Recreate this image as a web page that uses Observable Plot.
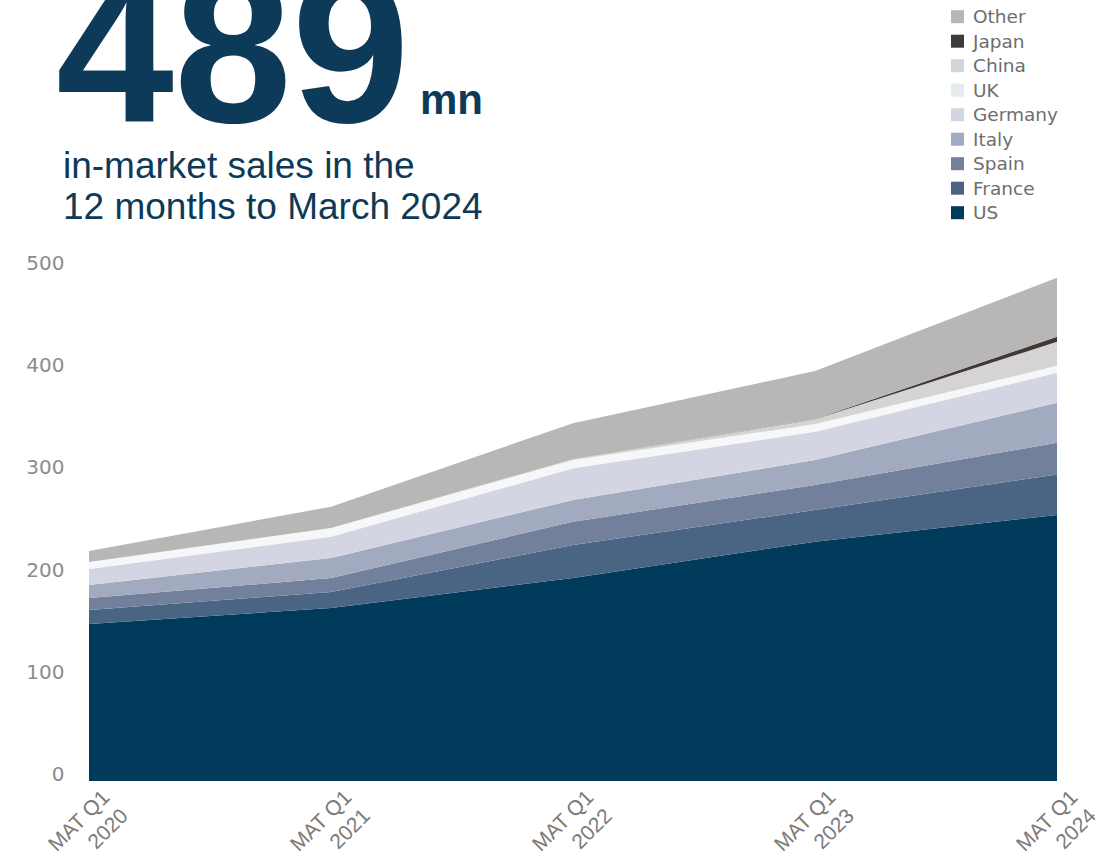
<!DOCTYPE html>
<html>
<head>
<meta charset="utf-8">
<script src="https://cdn.jsdelivr.net/npm/d3@7"></script>
<script src="https://cdn.jsdelivr.net/npm/@observablehq/plot@0.6"></script>
<style>
  html, body { margin: 0; padding: 0; background: #ffffff; }
  #wrap { position: relative; width: 1099px; height: 862px; overflow: hidden; }
  #wrap svg { position: absolute; left: 0; top: 0; }
</style>
</head>
<body>
<div id="wrap"></div>
<script>
// ---- data (USD mn, in-market sales, stacked) ----
const periods = ["MAT Q1 2020", "MAT Q1 2021", "MAT Q1 2022", "MAT Q1 2023", "MAT Q1 2024"];
const countries = ["US", "France", "Spain", "Italy", "Germany", "UK", "China", "Japan", "Other"];
const colors = ["#003b5c", "#4a6484", "#72809b", "#a1aabe", "#d3d6e2", "#f5f7f9", "#d5d3d3", "#3e3a37", "#b8b7b6"];
const us      = [153.6, 169.3, 198.6, 234.2, 260.3];
const france  = [13.7, 15.6, 32.3, 31.0, 39.6];
const spain   = [11.7, 13.7, 22.8, 24.4, 31.0];
const italy   = [12.8, 19.6, 21.3, 24.5, 39.2];
const germany = [15.6, 20.8, 31.0, 27.7, 29.3];
const uk      = [6.9, 8.6, 8.1, 7.5, 6.8];
const china   = [0.0, 0.0, 0.8, 4.6, 23.5];
const japan   = [0.0, 0.0, 0.0, 0.3, 4.9];
const other   = [10.8, 20.8, 35.2, 47.0, 57.8];
const yTicks  = [0, 100, 200, 300, 400, 500];
const legendOrder = ["Other", "Japan", "China", "UK", "Germany", "Italy", "Spain", "France", "US"];

const valuesBy = {US: us, France: france, Spain: spain, Italy: italy, Germany: germany, UK: uk, China: china, Japan: japan, Other: other};
const rows = countries.flatMap(c => periods.map((p, i) => ({period: p, country: c, value: valuesBy[c][i]})));

const wrap = document.getElementById("wrap");

const chart = Plot.plot({
  width: 1099,
  height: 862,
  marginTop: 270,
  marginBottom: 81,
  marginLeft: 89,
  marginRight: 42,
  style: {background: "transparent", overflow: "visible"},
  x: {type: "point", domain: periods, padding: 0, axis: null},
  y: {domain: [0, 500], axis: null},
  color: {domain: countries, range: colors},
  marks: [
    Plot.areaY(rows, {x: "period", y: "value", fill: "country", z: "country"}),
    Plot.axisY({ticks: yTicks, tickSize: 0, tickPadding: 25, dy: -7, fontSize: 20, label: null,
                fill: "#8c8c8c", fontFamily: "DejaVu Sans", textAnchor: "end"}),
    Plot.text(periods, {
      x: d => d,
      frameAnchor: "bottom",
      text: d => d.replace(/ (\d{4})$/, "\n$1"),
      rotate: -45,
      textAnchor: "end",
      lineAnchor: "top",
      dx: 8,
      dy: 4,
      fontSize: 21,
      lineHeight: 1.25,
      fill: "#7a7a7a",
      fontFamily: "Liberation Sans, Arial, sans-serif"
    })
  ]
});
wrap.appendChild(chart);

// ---- header: big number, subtitle and legend ----
const head = d3.select(wrap).append("svg")
  .attr("width", 1099).attr("height", 250)
  .style("overflow", "visible");

head.append("text").attr("x", 56).attr("y", 122)
  .attr("font-family", "Liberation Sans, Arial, sans-serif")
  .attr("font-weight", "bold").attr("font-size", 212).attr("fill", "#0d3a58")
  .text("489");
head.append("text").attr("x", 420).attr("y", 114)
  .attr("font-family", "Liberation Sans, Arial, sans-serif")
  .attr("font-weight", "bold").attr("font-size", 42).attr("fill", "#0d3a58")
  .text("mn");
head.append("text").attr("x", 63).attr("y", 178)
  .attr("font-family", "Liberation Sans, Arial, sans-serif")
  .attr("font-size", 37).attr("fill", "#0d3a58")
  .text("in-market sales in the");
head.append("text").attr("x", 63).attr("y", 219)
  .attr("font-family", "Liberation Sans, Arial, sans-serif")
  .attr("font-size", 37).attr("fill", "#0d3a58")
  .text("12 months to March 2024");

const legendColor = {};
countries.forEach((c, i) => legendColor[c] = colors[i]);
legendColor.UK = "#e6ebee";
const lg = head.append("g");
legendOrder.forEach((c, i) => {
  const cy = 16.7 + i * 24.5;
  lg.append("rect").attr("x", 951).attr("y", cy - 6.5).attr("width", 13).attr("height", 13)
    .attr("fill", legendColor[c]);
  lg.append("text").attr("x", 973).attr("y", cy + 6.5)
    .attr("font-family", "DejaVu Sans, sans-serif").attr("font-size", 18.5).attr("fill", "#6e6e6e")
    .text(c);
});
</script>
</body>
</html>
